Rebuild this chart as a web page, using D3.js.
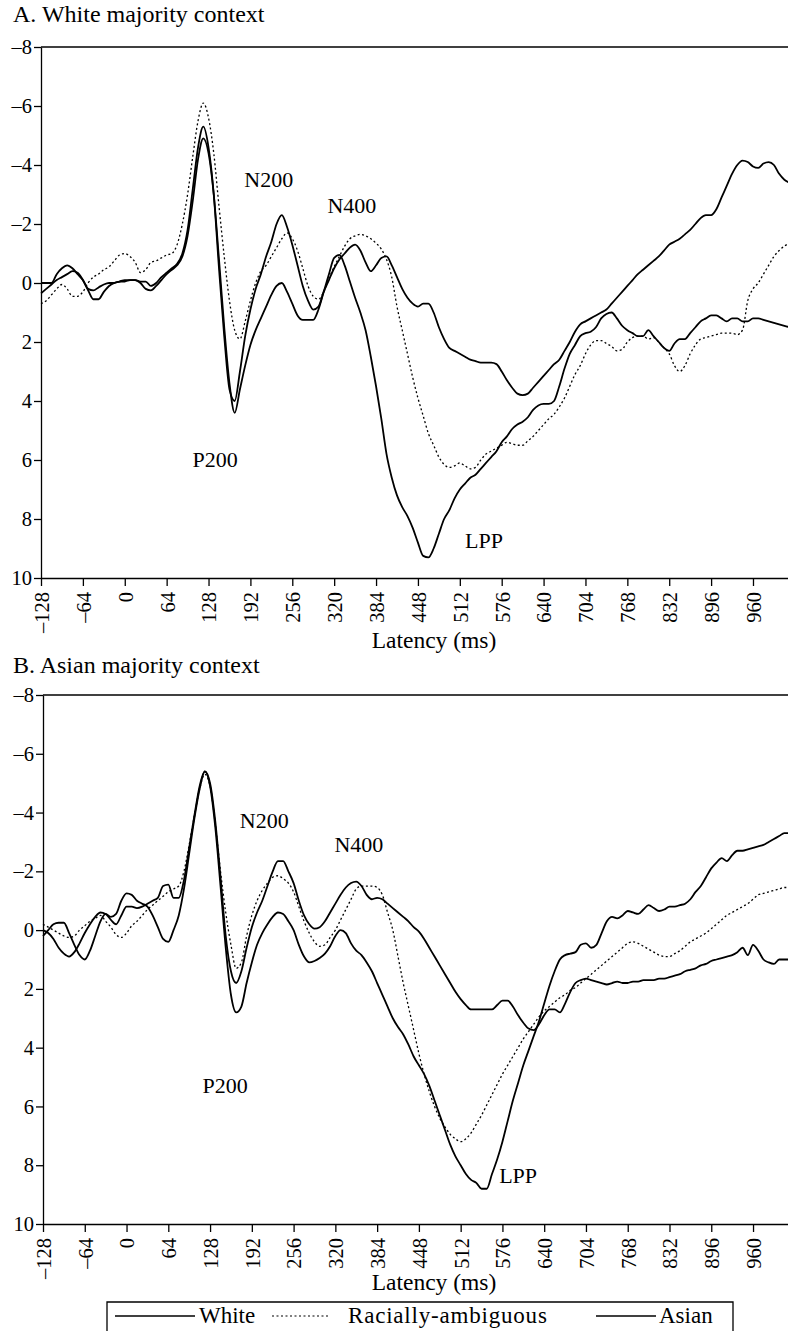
<!DOCTYPE html>
<html>
<head>
<meta charset="utf-8">
<script src="https://cdn.jsdelivr.net/npm/d3@7"></script>
<style>
body { margin: 0; background: #fff; }
text { font-family: "Liberation Serif", "Times New Roman", serif; fill: #000; }
</style>
</head>
<body>
<div id="chart"></div>
<script>
// sample times (ms), one value every 8 ms
var latencies = d3.range(-128, 1017, 8);
var xTicks = d3.range(-128, 961, 64);
var yTicks = d3.range(-8, 11, 2);
var seriesNames = ["White", "Racially-ambiguous", "Asian"];

// A. White majority context (microvolts, negative up)
var aWhite = [
  0.0, 0.0, 0.0, -0.3, -0.5, -0.6, -0.5, -0.3, -0.1, 0.2, 0.25, 0.15, 0.05, 0.0, 0.0, -0.05,
  -0.05, -0.1, -0.1, -0.05, -0.05, 0.1, 0.0, -0.2, -0.35, -0.5, -0.65, -1.0, -1.8, -3.2, -4.6, -5.3,
  -4.6, -3.0, -0.5, 1.8, 3.6, 4.0, 3.0, 1.8, 0.9, 0.2, -0.3, -0.9, -1.4, -2.0, -2.3, -1.9,
  -1.3, -0.6, 0.1, 0.6, 0.9, 0.8, 0.3, -0.1, -0.5, -0.8, -1.0, -1.2, -1.3, -1.1, -0.7, -0.4,
  -0.6, -0.85, -0.9, -0.6, -0.2, 0.2, 0.5, 0.7, 0.8, 0.7, 0.7, 1.0, 1.5, 1.9, 2.2, 2.3,
  2.4, 2.5, 2.6, 2.65, 2.7, 2.7, 2.7, 2.75, 3.0, 3.3, 3.55, 3.75, 3.8, 3.75, 3.55, 3.35,
  3.15, 2.95, 2.75, 2.6, 2.3, 2.0, 1.65, 1.4, 1.3, 1.2, 1.1, 1.0, 0.9, 0.7, 0.5, 0.3,
  0.1, -0.1, -0.3, -0.45, -0.6, -0.75, -0.9, -1.1, -1.3, -1.4, -1.5, -1.65, -1.8, -2.0, -2.2, -2.3,
  -2.3, -2.5, -2.9, -3.3, -3.7, -4.0, -4.15, -4.1, -3.95, -3.9, -4.05, -4.1, -4.0, -3.7, -3.5, -3.4
];
var aAmbig = [
  0.7, 0.6, 0.4, 0.2, 0.05, 0.2, 0.45, 0.45, 0.3, 0.0, -0.2, -0.3, -0.45, -0.55, -0.75, -0.95,
  -1.0, -0.9, -0.7, -0.35, -0.45, -0.7, -0.75, -0.85, -0.95, -1.0, -1.3, -2.0, -3.0, -4.3, -5.5, -6.1,
  -5.6, -4.4, -2.6, -0.9, 0.6, 1.6, 1.9, 1.3, 0.6, 0.0, -0.4, -0.6, -0.9, -1.2, -1.5, -1.7,
  -1.5, -1.1, -0.5, 0.1, 0.45, 0.55, 0.3, -0.15, -0.55, -0.9, -1.25, -1.5, -1.6, -1.65, -1.6, -1.5,
  -1.35, -1.15, -0.8, -0.2, 0.8, 1.6, 2.4, 3.2, 3.9, 4.5, 5.1, 5.5, 5.9, 6.15, 6.25, 6.2,
  6.1, 6.2, 6.3, 6.25, 6.0, 5.8, 5.7, 5.6, 5.5, 5.4, 5.45, 5.5, 5.5, 5.35, 5.2, 5.0,
  4.8, 4.6, 4.45, 4.2, 3.9, 3.5, 3.1, 2.8, 2.4, 2.1, 1.95, 1.95, 2.05, 2.15, 2.3, 2.25,
  2.0, 1.85, 1.8, 1.8, 1.9, 1.85, 2.0, 2.2, 2.4, 2.8, 3.0, 2.8, 2.4, 2.1, 1.9, 1.85,
  1.8, 1.75, 1.7, 1.7, 1.7, 1.75, 1.6, 0.6, 0.2, 0.0, -0.3, -0.6, -0.9, -1.1, -1.25, -1.35
];
var aAsian = [
  0.35, 0.2, 0.05, -0.1, -0.2, -0.3, -0.4, -0.35, -0.1, 0.25, 0.55, 0.55, 0.3, 0.1, 0.0, -0.05,
  -0.1, -0.1, -0.1, 0.0, 0.2, 0.25, 0.1, -0.1, -0.3, -0.45, -0.6, -0.9, -1.6, -2.8, -4.2, -4.9,
  -4.4, -3.0, -0.8, 1.5, 3.4, 4.4, 3.6, 2.8, 2.1, 1.6, 1.2, 0.8, 0.4, 0.1, 0.0, 0.3,
  0.7, 1.1, 1.25, 1.25, 1.25, 0.9, 0.3, -0.3, -0.85, -0.95, -0.6, -0.05, 0.5, 1.0, 1.6, 2.5,
  3.5, 4.6, 5.8, 6.6, 7.2, 7.6, 7.9, 8.3, 8.8, 9.25, 9.3, 9.0, 8.5, 8.0, 7.7, 7.3,
  7.0, 6.8, 6.6, 6.5, 6.3, 6.1, 5.9, 5.7, 5.4, 5.2, 4.95, 4.8, 4.7, 4.55, 4.3, 4.15,
  4.1, 4.1, 4.0, 3.5, 2.9, 2.4, 2.1, 1.8, 1.7, 1.65, 1.5, 1.2, 1.05, 1.0, 1.2, 1.45,
  1.6, 1.7, 1.8, 1.8, 1.6, 1.8, 2.0, 2.2, 2.3, 2.05, 1.9, 1.9, 1.7, 1.5, 1.3, 1.2,
  1.1, 1.1, 1.2, 1.3, 1.2, 1.2, 1.3, 1.3, 1.2, 1.2, 1.25, 1.3, 1.35, 1.4, 1.45, 1.5
];

// B. Asian majority context
var bWhite = [
  0.0, 0.1, 0.3, 0.6, 0.8, 0.9, 0.75, 0.45, 0.1, -0.2, -0.45, -0.6, -0.55, -0.35, -0.2, -0.5,
  -0.8, -0.8, -0.75, -0.8, -0.9, -1.0, -1.1, -1.5, -1.55, -1.1, -1.1, -1.7, -2.8, -3.9, -4.9, -5.4,
  -5.0, -3.7, -1.8, 0.2, 1.4, 1.8, 1.4, 0.6, -0.1, -0.6, -1.0, -1.5, -2.0, -2.35, -2.35, -2.0,
  -1.6, -1.0, -0.5, -0.2, -0.05, -0.1, -0.3, -0.6, -0.9, -1.2, -1.45, -1.6, -1.65, -1.5, -1.2, -1.05,
  -1.1, -1.05, -0.9, -0.75, -0.6, -0.45, -0.3, -0.1, 0.05, 0.3, 0.6, 0.9, 1.2, 1.5, 1.8, 2.1,
  2.35, 2.55, 2.7, 2.7, 2.7, 2.7, 2.7, 2.55, 2.4, 2.4, 2.6, 2.9, 3.15, 3.35, 3.4, 3.2,
  2.9, 2.7, 2.7, 2.8, 2.5, 2.1, 1.8, 1.7, 1.65, 1.7, 1.75, 1.8, 1.85, 1.8, 1.75, 1.8,
  1.8, 1.75, 1.75, 1.7, 1.7, 1.7, 1.65, 1.65, 1.6, 1.55, 1.5, 1.4, 1.35, 1.3, 1.2, 1.15,
  1.05, 1.0, 0.95, 0.9, 0.85, 0.75, 0.6, 0.85, 0.5, 0.7, 1.0, 1.1, 1.15, 1.0, 1.0, 1.0
];
var bAmbig = [
  -0.2, -0.1, 0.0, 0.1, 0.2, 0.25, 0.2, 0.0, -0.15, -0.3, -0.4, -0.5, -0.3, -0.1, 0.15, 0.25,
  0.1, -0.15, -0.3, -0.5, -0.7, -0.85, -1.0, -1.15, -1.3, -1.4, -1.5, -2.0, -2.9, -3.9, -4.8, -5.3,
  -4.9, -3.6, -2.0, -0.6, 0.5, 1.3, 1.1, 0.2, -0.5, -1.0, -1.35, -1.6, -1.8, -1.85, -1.75, -1.6,
  -1.3, -0.8, -0.3, 0.1, 0.4, 0.55, 0.5, 0.25, 0.0, -0.35, -0.7, -1.05, -1.4, -1.5, -1.5, -1.5,
  -1.45, -1.2, -0.6, 0.0, 0.9, 1.8, 2.6, 3.4, 4.2, 4.9, 5.5, 6.0, 6.4, 6.7, 6.95, 7.1,
  7.2, 7.1, 6.9, 6.6, 6.3, 5.95, 5.6, 5.25, 4.9, 4.6, 4.3, 4.0, 3.7, 3.45, 3.2, 2.95,
  2.75, 2.6, 2.45, 2.3, 2.2, 2.05, 1.95, 1.8, 1.65, 1.5, 1.35, 1.2, 1.05, 0.9, 0.75, 0.6,
  0.45, 0.4, 0.45, 0.55, 0.65, 0.75, 0.85, 0.9, 0.9, 0.8, 0.7, 0.55, 0.4, 0.3, 0.2, 0.1,
  -0.05, -0.2, -0.35, -0.5, -0.6, -0.7, -0.8, -0.9, -1.05, -1.2, -1.25, -1.3, -1.35, -1.4, -1.45, -1.45
];
var bAsian = [
  0.2, 0.0, -0.2, -0.25, -0.25, 0.1, 0.5, 0.85, 1.0, 0.7, 0.2, -0.3, -0.55, -0.45, -0.55, -1.0,
  -1.25, -1.2, -1.0, -0.9, -0.8, -0.5, -0.1, 0.3, 0.4, 0.0, -0.5, -1.4, -2.6, -3.8, -4.8, -5.4,
  -4.9, -3.5, -1.5, 0.6, 2.2, 2.8, 2.6, 1.8, 1.1, 0.5, 0.1, -0.2, -0.45, -0.6, -0.55, -0.3,
  0.0, 0.5, 0.9, 1.1, 1.05, 0.95, 0.8, 0.55, 0.2, 0.0, 0.1, 0.45, 0.7, 0.85, 1.1, 1.4,
  1.8, 2.2, 2.6, 3.0, 3.3, 3.55, 3.9, 4.3, 4.6, 4.9, 5.3, 5.8, 6.3, 6.8, 7.3, 7.7,
  8.0, 8.3, 8.5, 8.6, 8.8, 8.8, 8.3, 7.8, 7.2, 6.5, 5.8, 5.2, 4.6, 4.1, 3.6, 3.1,
  2.5, 1.9, 1.4, 1.0, 0.85, 0.8, 0.75, 0.5, 0.45, 0.6, 0.5, 0.1, -0.3, -0.45, -0.4, -0.5,
  -0.65, -0.6, -0.55, -0.7, -0.85, -0.75, -0.65, -0.7, -0.8, -0.8, -0.85, -0.9, -1.05, -1.3, -1.5, -1.8,
  -2.1, -2.3, -2.45, -2.35, -2.55, -2.7, -2.7, -2.75, -2.8, -2.85, -2.9, -3.0, -3.1, -3.2, -3.3, -3.3
];

// component labels: [text, latency, amplitude]
var aComponents = [["N200", 220, -3.25], ["N400", 347, -2.37], ["P200", 138, 6.24], ["LPP", 549, 8.98]];
var bComponents = [["N200", 211, -3.47], ["N400", 356, -2.65], ["P200", 151, 5.54], ["LPP", 600, 8.6]];

var svg = d3.select("#chart")
    .append("svg")
    .attr("width", 788)
    .attr("height", 1331);

var dashFor = {"White": null, "Racially-ambiguous": "2,2.5", "Asian": null};
var widthFor = {"White": 1.8, "Racially-ambiguous": 1.3, "Asian": 1.8};

function fmt(d) { return d < 0 ? "\u2013" + Math.abs(d) : String(d); }

function drawPanel(p) {
    var x = d3.scaleLinear().domain([-128, 1024]).range([p.left, p.left + 1152 * p.pxPerMs]);
    var y = d3.scaleLinear().domain([-8, 10]).range([p.top, p.bottom]);

    svg.append("text")
        .attr("x", 13).attr("y", p.titleY)
        .style("font-size", "24px")
        .text(p.title);

    // top frame line
    svg.append("line")
        .attr("x1", x(-128)).attr("x2", 788)
        .attr("y1", y(-8)).attr("y2", y(-8))
        .attr("stroke", "#000").attr("stroke-width", 1.3);

    var ax = svg.append("g")
        .attr("transform", `translate(${x(-128)},0)`)
        .call(d3.axisLeft(y).tickValues(yTicks).tickSize(7).tickSizeOuter(0).tickFormat(fmt));
    ax.selectAll("text").style("font-size", "20.5px").attr("font-family", null).attr("x", -9);

    var bx = svg.append("g")
        .attr("transform", `translate(0,${y(10)})`)
        .call(d3.axisBottom(x).tickValues(xTicks).tickSize(8).tickSizeOuter(0).tickFormat(fmt));
    bx.selectAll("text")
        .style("font-size", "20.5px").attr("font-family", null)
        .attr("transform", "rotate(-90)")
        .attr("text-anchor", "end")
        .attr("x", -14).attr("y", 0).attr("dy", "0.36em");

    svg.selectAll(".domain, .tick line").attr("stroke", "#000").attr("stroke-width", 1.3);

    svg.append("text")
        .attr("x", 434).attr("y", p.latencyY)
        .attr("text-anchor", "middle")
        .style("font-size", "23.5px")
        .text("Latency (ms)");

    var line = d3.line()
        .x((d, i) => x(latencies[i]))
        .y(d => y(d))
        .curve(d3.curveMonotoneX);

    p.series.forEach(function(s, k) {
        var name = seriesNames[k];
        svg.append("path")
            .datum(s)
            .attr("d", line)
            .attr("fill", "none")
            .attr("stroke", "#000")
            .attr("stroke-width", widthFor[name])
            .attr("stroke-dasharray", dashFor[name]);
    });

    p.components.forEach(function(c) {
        svg.append("text")
            .attr("x", x(c[1])).attr("y", y(c[2]))
            .attr("text-anchor", "middle")
            .style("font-size", "22px")
            .text(c[0]);
    });
}

drawPanel({title: "A.  White majority context", titleY: 22, top: 47, bottom: 578, left: 41,
    pxPerMs: 0.6544, latencyY: 648, series: [aWhite, aAmbig, aAsian], components: aComponents});
drawPanel({title: "B.  Asian majority context", titleY: 673, top: 695, bottom: 1224, left: 43,
    pxPerMs: 0.6526, latencyY: 1290, series: [bWhite, bAmbig, bAsian], components: bComponents});

// legend
var legend = svg.append("g");
legend.append("path")
    .attr("d", "M107,1340V1302H733V1340")
    .attr("fill", "none").attr("stroke", "#000").attr("stroke-width", 1.3);

var legendItems = [
    {name: "White", x1: 115, x2: 195, tx: 199},
    {name: "Racially-ambiguous", x1: 272, x2: 330, tx: 348},
    {name: "Asian", x1: 596, x2: 656, tx: 659}
];
legendItems.forEach(function(d) {
    legend.append("line")
        .attr("x1", d.x1).attr("x2", d.x2)
        .attr("y1", 1316).attr("y2", 1316)
        .attr("stroke", "#000")
        .attr("stroke-width", d.name === "Racially-ambiguous" ? 1.2 : 1.4)
        .attr("stroke-dasharray", dashFor[d.name]);
    legend.append("text")
        .attr("x", d.tx).attr("y", 1323)
        .style("font-size", "23px")
        .style("letter-spacing", d.name === "Racially-ambiguous" ? "0.8px" : null)
        .text(d.name);
});
</script>
</body>
</html>
